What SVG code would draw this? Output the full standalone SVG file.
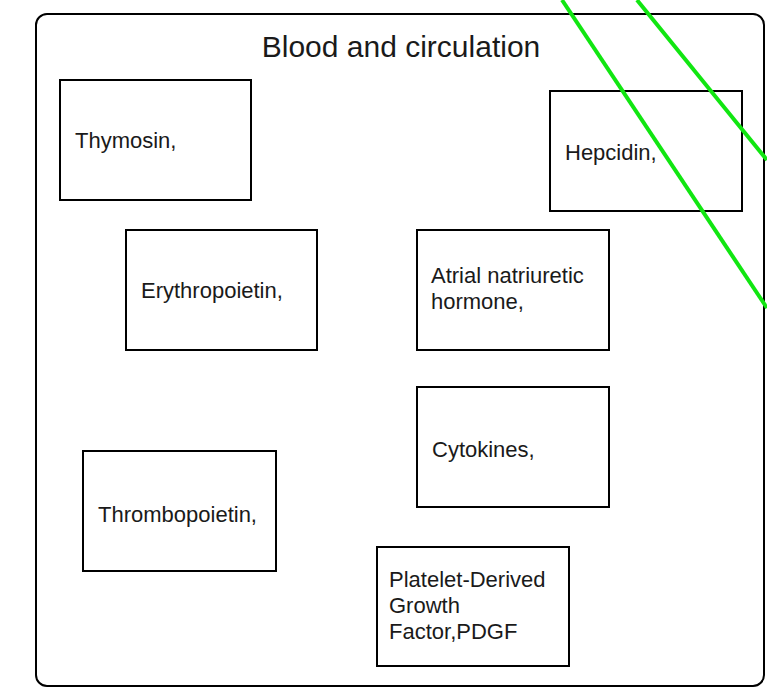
<svg xmlns="http://www.w3.org/2000/svg" width="767" height="688" viewBox="0 0 767 688">
<style>
.box{fill:#fff;stroke:#000;stroke-width:2}
.t{font-family:"Liberation Sans",Arial,sans-serif;font-size:22px;fill:#1a1a1a}
.title{font-family:"Liberation Sans",Arial,sans-serif;font-size:30px;fill:#1a1a1a;text-anchor:middle}
.g{stroke:#11e611;stroke-width:4;fill:none}
</style>
<rect width="767" height="688" fill="#fff"/>
<g id="container">
<rect x="36" y="14" width="728" height="672" rx="11" ry="11" fill="#fff" stroke="#000" stroke-width="2"/>
<text class="title" x="401" y="57">Blood and circulation</text>
</g>
<g id="thymosin"><rect class="box" x="60" y="80" width="191" height="120"/><text class="t" x="75" y="148">Thymosin,</text></g>
<g id="hepcidin"><rect class="box" x="550" y="91" width="192" height="120"/><text class="t" x="565" y="160">Hepcidin,</text></g>
<g id="erythropoietin"><rect class="box" x="126" y="230" width="191" height="120"/><text class="t" x="141" y="298">Erythropoietin,</text></g>
<g id="anh"><rect class="box" x="417" y="230" width="192" height="120"/><text class="t" x="431" y="283">Atrial natriuretic</text><text class="t" x="431" y="309">hormone,</text></g>
<g id="cytokines"><rect class="box" x="417" y="387" width="192" height="120"/><text class="t" x="432" y="457">Cytokines,</text></g>
<g id="thrombopoietin"><rect class="box" x="83" y="451" width="193" height="120"/><text class="t" x="98" y="522">Thrombopoietin,</text></g>
<g id="pdgf"><rect class="box" x="377" y="547" width="192" height="119"/><text class="t" x="389" y="587">Platelet-Derived</text><text class="t" x="389" y="613">Growth</text><text class="t" x="389" y="639">Factor,PDGF</text></g>
<g id="connectors">
<line class="g" x1="562" y1="0" x2="767" y2="308"/>
<line class="g" x1="637" y1="0" x2="767" y2="160"/>
</g>
</svg>
